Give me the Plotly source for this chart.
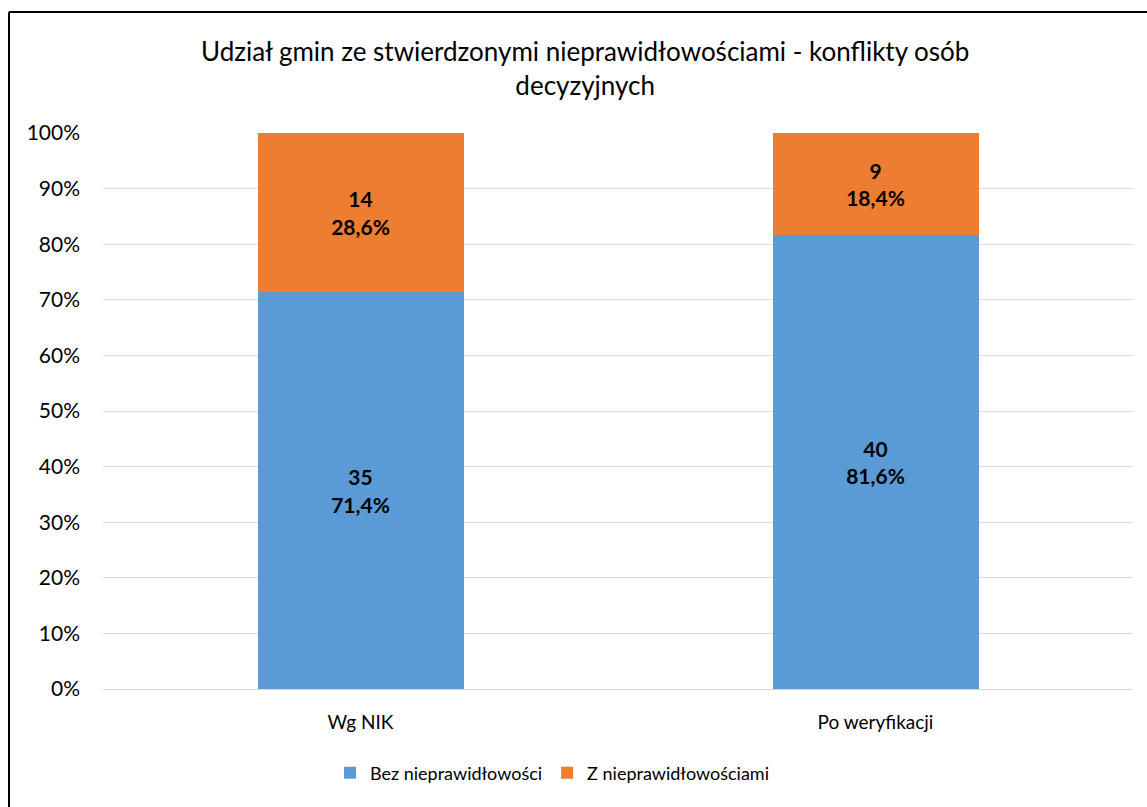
import plotly.graph_objects as go

categories = ["Wg NIK", "Po weryfikacji"]
series_names = ["Bez nieprawidłowości", "Z nieprawidłowościami"]
bez_counts = [35, 40]
z_counts = [14, 9]
bez_pct = [71.4, 81.6]
z_pct = [28.6, 18.4]
colors = ["#5B9BD5", "#ED7D31"]
title_text = "Udział gmin ze stwierdzonymi nieprawidłowościami - konflikty osób<br>decyzyjnych"

W, H = 1147, 807
L, R, T, B = 103, 14, 133, 118
pw, ph = W - L - R, H - T - B
FONT = "Lato"

def fmt(c, p):
    return f"<b>{c}<br>{str(p).replace('.', ',')}%</b>"

fig = go.Figure()
fig.add_trace(go.Bar(
    x=categories, y=bez_pct, name=series_names[0], marker_color=colors[0],
    marker_line_width=0,
    text=[fmt(c, p) for c, p in zip(bez_counts, bez_pct)],
    textposition="inside", insidetextanchor="middle",
    textfont=dict(size=21, color="black", family=FONT),
))
fig.add_trace(go.Bar(
    x=categories, y=z_pct, name=series_names[1], marker_color=colors[1],
    marker_line_width=0,
    text=[fmt(c, p) for c, p in zip(z_counts, z_pct)],
    textposition="inside", insidetextanchor="middle",
    textfont=dict(size=21, color="black", family=FONT),
))

fig.update_layout(
    width=W, height=H,
    margin=dict(l=L, r=R, t=T, b=B),
    barmode="stack", bargap=0.6,
    paper_bgcolor="white", plot_bgcolor="white",
    font=dict(family=FONT, size=19, color="#000000"),
    showlegend=True,
    legend=dict(orientation="h", x=(552 - L) / pw, xanchor="center",
                y=-(773 - (T + ph)) / ph, yanchor="middle",
                font=dict(size=18), itemwidth=30, traceorder="normal"),
    annotations=[dict(text=title_text, xref="paper", yref="paper",
                      x=(585 - L) / pw, y=1 + (133 - 68) / ph,
                      xanchor="center", yanchor="middle", showarrow=False,
                      font=dict(size=26, family=FONT, color="#000000"))],
    uniformtext=dict(mode=False),
)
fig.update_yaxes(range=[0, 100], dtick=10, ticksuffix="%", showgrid=True,
                 gridcolor="#D9D9D9", gridwidth=1, zeroline=False,
                 showline=False, ticks="", ticklabelstandoff=22,
                 tickfont=dict(size=21))
fig.update_xaxes(showline=True, linecolor="#D9D9D9", linewidth=1, ticks="",
                 ticklabelstandoff=16, tickfont=dict(size=19))

# figure border (left and top edges visible)
x0 = (9 - L) / pw
y0 = 1 + (T - 12) / ph
fig.add_shape(type="line", xref="paper", yref="paper", x0=x0, x1=x0,
              y0=y0, y1=-(B + 20) / ph, line=dict(color="black", width=2))
fig.add_shape(type="line", xref="paper", yref="paper", x0=x0, x1=1 + (R + 20) / pw,
              y0=y0, y1=y0, line=dict(color="black", width=2))

fig.write_html("out.html")
